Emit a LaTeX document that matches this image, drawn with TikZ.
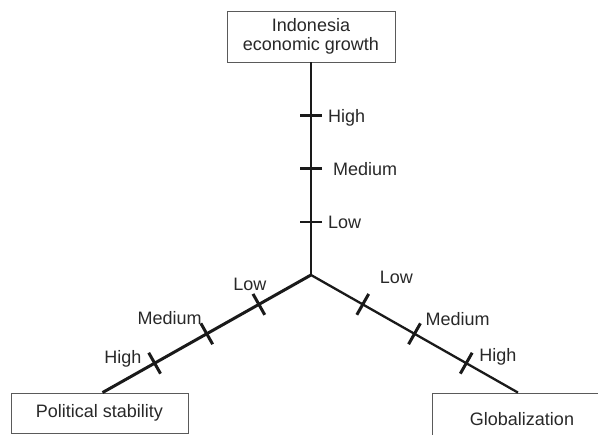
\documentclass[tikz,border=0pt]{standalone}
\usepackage{fontspec}
\setmainfont{Liberation Sans}
\usetikzlibrary{positioning,calc}
\definecolor{axisblack}{RGB}{26,26,26}
\definecolor{labelgray}{RGB}{40,40,40}
\definecolor{boxgray}{RGB}{90,90,90}

\begin{document}
\begin{tikzpicture}[x=1pt, y=1pt,
                    factor/.style = {
                      draw=boxgray, line width=0.8pt,
                      fill=white, text=labelgray,
                      align=center, inner sep=0pt,
                      font=\fontsize{18}{19.5}\selectfont
                    },
                    level/.style = {
                      text=labelgray, inner sep=1pt,
                      text height=13pt, text depth=0pt,
                      font=\fontsize{18}{19.5}\selectfont
                    },
                    axis/.style = {draw=axisblack, line width=#1},
                    tickmark/.style = {draw=axisblack, line width=#1}]
  \useasboundingbox (0,0) rectangle (598,435);
  \clip (0,0) rectangle (598,435);

  % the three factors
  \node[factor, minimum width=168pt, minimum height=51pt] (growth)
    at (311,398.5) {Indonesia\\economic growth};
  \node[factor, minimum width=177pt, minimum height=40pt] (stability)
    at (99.5,22) {Political stability};
  \node[factor, minimum width=180pt, minimum height=52pt] (globalization)
    at (522,16) {Globalization};

  \coordinate (hub) at (311,160);
  \coordinate (vend) at (growth.south);
  \coordinate (lend) at ([xshift=3pt]stability.north);
  \coordinate (rend) at ([xshift=-4pt]globalization.north);

  % axes
  \draw[axis=2pt] (hub) -- (vend);
  \draw[axis=3pt] (hub) -- (lend);
  \draw[axis=2.3pt] (hub) -- (rend);

  % low, medium, high on every axis
  \foreach \ax in {v, l, r} {
    \foreach \t/\lv in {0.25/l, 0.5/m, 0.75/h}
      \coordinate (\ax\lv) at ($(hub)!\t!(\ax end)$);
  }

  \foreach \c in {vh, vm}
    \draw[tickmark=3.5pt] ($(\c)!11pt!90:(hub)$) -- ($(\c)!11pt!-90:(hub)$);
  \draw[tickmark=2pt] ($(vl)!11pt!90:(hub)$) -- ($(vl)!11pt!-90:(hub)$);
  \foreach \c in {ll, lm, lh, rl, rm, rh}
    \draw[tickmark=3pt] ($(\c)!12pt!90:(hub)$) -- ($(\c)!12pt!-90:(hub)$);

  \node[level, right=16pt of vh] (vhigh) {High};
  \node[level, right=21pt of vm] (vmedium) {Medium};
  \node[level, right=16pt of vl] (vlow) {Low};

  \node[level, above=13pt of ll, xshift=-9pt] (llow) {Low};
  \node[level, above left=8pt and 4pt of lm] (lmedium) {Medium};
  \node[level, left=12pt of lh, yshift=6pt] (lhigh) {High};

  \node[level, above right=20pt and 16pt of rl] (rlow) {Low};
  \node[level, above right=7pt and 10pt of rm] (rmedium) {Medium};
  \node[level, above right=0pt and 12pt of rh] (rhigh) {High};
\end{tikzpicture}
\end{document}
